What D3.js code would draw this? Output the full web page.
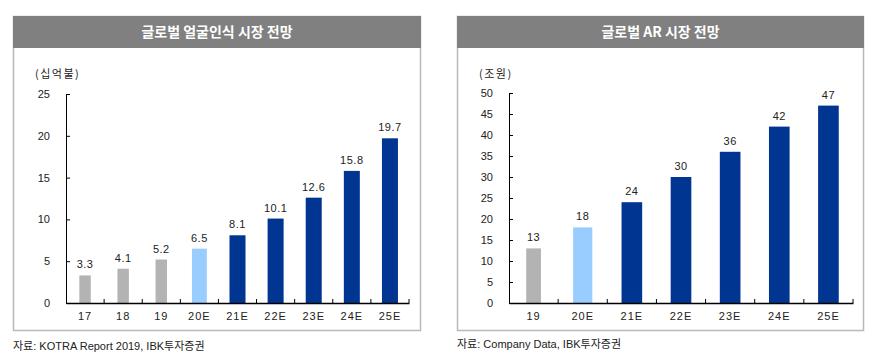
<!DOCTYPE html>
<html>
<head>
<meta charset="utf-8">
<script src="https://cdn.jsdelivr.net/npm/d3@7"></script>
<style>
  body { margin: 0; background: #fff; }
  text { font-family: "Liberation Sans", "Noto Sans CJK KR", sans-serif; }
</style>
</head>
<body>
<div id="chart"></div>
<script>
// data
const faceYears = ["17", "18", "19", "20E", "21E", "22E", "23E", "24E", "25E"];
const faceValues = [3.3, 4.1, 5.2, 6.5, 8.1, 10.1, 12.6, 15.8, 19.7];
const faceTicks = [0, 5, 10, 15, 20, 25];

const arYears = ["19", "20E", "21E", "22E", "23E", "24E", "25E"];
const arValues = [13, 18, 24, 30, 36, 42, 47];
const arTicks = [0, 5, 10, 15, 20, 25, 30, 35, 40, 45, 50];

const svg = d3.select("#chart").append("svg")
    .attr("width", 875).attr("height", 361);

// bar colour / width by year type
function barStyle(year) {
    if (year === "20E") return { fill: "#99ccff", w: 0.39 };
    if (year.endsWith("E")) return { fill: "#003591", w: 0.42 };
    return { fill: "#b3b3b3", w: 0.3 };
}

function drawPanel(opt) {
    const g = svg.append("g");

    // frame + title bar
    g.append("rect")
        .attr("x", opt.left + 0.5).attr("y", 16.5)
        .attr("width", opt.width - 1).attr("height", 314)
        .attr("fill", "#fff").attr("stroke", "#b9b9b9").attr("stroke-width", 1.5);
    g.append("rect")
        .attr("x", opt.left).attr("y", 16)
        .attr("width", opt.width).attr("height", 32)
        .attr("fill", "#808080");
    g.append("text")
        .attr("x", opt.left + opt.width / 2).attr("y", 37)
        .attr("text-anchor", "middle")
        .attr("fill", "#fff").attr("font-size", 14).attr("font-weight", "bold")
        .style("font-family", "'Noto Sans CJK KR', sans-serif")
        .text(opt.title);

    g.append("text")
        .attr("x", opt.unitX).attr("y", 78)
        .attr("fill", "#222").attr("font-size", 11)
        .attr("letter-spacing", 1.5)
        .style("font-family", "'Noto Sans CJK KR', sans-serif")
        .text(opt.unit);

    let x = d3.scaleBand()
        .domain(opt.cats)
        .range([opt.x0, opt.x1]);

    let y = d3.scaleLinear()
        .domain([0, d3.max(opt.ticks)])
        .range([303, opt.yTop]);

    // Y axis
    let yAxis = g.append("g")
        .attr("transform", `translate(${opt.x0},0)`)
        .call(d3.axisRight(y).tickValues(opt.ticks).tickSize(4).tickFormat(d3.format("d")));
    yAxis.select(".domain").attr("stroke", "#000");
    yAxis.selectAll("text")
        .attr("x", -16).attr("text-anchor", "end")
        .attr("font-size", 11).attr("fill", "#222")
        .style("font-family", "'Liberation Sans', sans-serif");

    // bars
    g.append("g").selectAll("rect")
        .data(opt.values)
        .enter()
        .append("rect")
            .attr("x", (d, i) => x(opt.cats[i]) + x.bandwidth() * (1 - barStyle(opt.cats[i]).w) / 2)
            .attr("width", (d, i) => x.bandwidth() * barStyle(opt.cats[i]).w)
            .attr("y", d => y(d))
            .attr("height", d => y(0) - y(d))
            .attr("fill", (d, i) => barStyle(opt.cats[i]).fill);

    // value labels
    g.append("g").selectAll("text")
        .data(opt.values)
        .enter()
        .append("text")
            .attr("x", (d, i) => x(opt.cats[i]) + x.bandwidth() / 2)
            .attr("y", d => y(d) - 7)
            .attr("text-anchor", "middle")
            .attr("font-size", 11).attr("fill", "#222")
            .attr("letter-spacing", 0.5)
            .text(d => opt.labelFmt(d));

    // X axis, ticks at band edges pointing up
    let xAxis = g.append("g")
        .attr("transform", `translate(0,303)`)
        .call(d3.axisBottom(x).tickSize(0).tickPadding(9));
    xAxis.select(".domain").attr("stroke", "#000").attr("stroke-width", 1.5);
    xAxis.selectAll("text")
        .attr("font-size", 11).attr("fill", "#222")
        .attr("letter-spacing", 1)
        .style("font-family", "'Liberation Sans', sans-serif");
    g.append("g").selectAll("line")
        .data(opt.cats.slice(1).concat(["end"]))
        .enter()
        .append("line")
            .attr("x1", (d, i) => opt.x0 + x.step() * (i + 1))
            .attr("x2", (d, i) => opt.x0 + x.step() * (i + 1))
            .attr("y1", 303).attr("y2", 299)
            .attr("stroke", "#000");

    // source
    svg.append("text")
        .attr("x", opt.left).attr("y", opt.srcY)
        .attr("font-size", 11).attr("fill", "#222")
        .style("font-family", "'Liberation Sans', 'Noto Sans CJK KR', sans-serif")
        .text(opt.source);
}

drawPanel({
    left: 13, width: 408,
    title: "글로벌 얼굴인식 시장 전망",
    unit: "(십억불)", unitX: 35,
    cats: faceYears, values: faceValues, ticks: faceTicks,
    x0: 66, x1: 409, yTop: 94,
    labelFmt: d3.format(".1f"),
    source: "자료: KOTRA Report 2019, IBK투자증권", srcY: 350
});

drawPanel({
    left: 457, width: 407,
    title: "글로벌 AR 시장 전망",
    unit: "(조원)", unitX: 479,
    cats: arYears, values: arValues, ticks: arTicks,
    x0: 509, x1: 853, yTop: 93,
    labelFmt: d3.format("d"),
    source: "자료: Company Data, IBK투자증권", srcY: 348
});
</script>
</body>
</html>
